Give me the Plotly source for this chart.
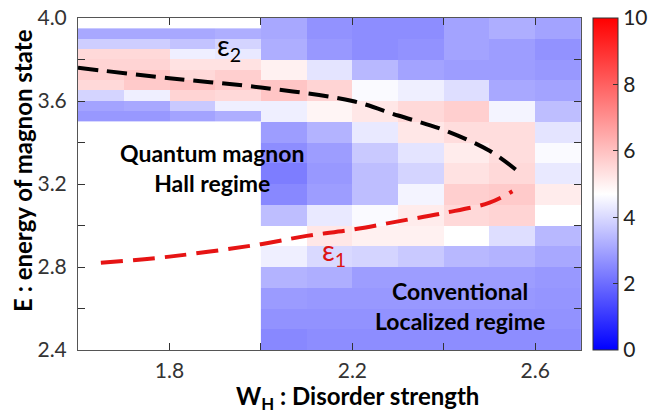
import plotly.graph_objects as go

# ---- data ----
# right block (W_H 2.0-2.7, E 2.4-4.0), rows listed from top (E=3.95) to bottom (E=2.45)
x_right = [2.05, 2.15, 2.25, 2.35, 2.45, 2.55, 2.65]
y_right_top_down = [3.95, 3.85, 3.75, 3.65, 3.55, 3.45, 3.35, 3.25,
                    3.15, 3.05, 2.95, 2.85, 2.75, 2.65, 2.55, 2.45]
z_right_top_down = [
    [3.1, 2.7, 2.6, 2.6, 3.0, 3.2, 3.0],
    [3.2, 2.8, 2.6, 2.7, 3.0, 2.9, 2.7],
    [5.0, 4.2, 3.4, 3.0, 2.9, 2.9, 2.8],
    [5.9, 5.6, 4.6, 4.4, 4.1, 3.1, 3.0],
    [4.4, 4.9, 5.2, 5.5, 5.7, 4.5, 3.5],
    [2.9, 3.3, 4.3, 5.2, 5.4, 5.4, 4.2],
    [2.6, 2.9, 3.7, 4.2, 5.1, 5.4, 4.6],
    [2.3, 2.8, 3.5, 3.9, 5.3, 5.5, 4.3],
    [2.5, 2.9, 3.5, 4.5, 5.7, 5.8, 5.1],
    [3.5, 4.3, 4.6, 5.1, 5.5, 5.6, 4.7],
    [4.7, 5.2, 5.0, 5.0, 4.7, 4.1, 3.4],
    [4.4, 4.0, 3.9, 3.7, 3.4, 3.3, 3.1],
    [3.3, 3.2, 2.9, 2.9, 2.9, 2.9, 2.8],
    [2.85, 2.8, 2.8, 2.8, 2.8, 2.8, 2.75],
    [2.7, 2.7, 2.7, 2.7, 2.7, 2.7, 2.7],
    [2.5, 2.6, 2.6, 2.6, 2.6, 2.6, 2.6],
]

# left block (W_H 1.6-2.0, E 3.5-3.95), finer energy rows, top to bottom
x_left = [1.65, 1.75, 1.85, 1.95]
y_left_top_down = [3.925, 3.875, 3.825, 3.775, 3.725, 3.675, 3.625, 3.575, 3.525]
z_left_top_down = [
    [3.1, 3.1, 3.1, 3.2],
    [3.8, 3.8, 3.6, 3.9],
    [5.5, 5.5, 4.4, 4.3],
    [5.6, 5.6, 5.3, 5.3],
    [5.7, 5.9, 5.5, 5.7],
    [5.5, 5.8, 6.0, 5.8],
    [3.9, 4.4, 5.6, 5.5],
    [3.0, 3.1, 3.7, 4.4],
    [2.8, 2.8, 3.0, 3.2],
]

# magnon state boundaries
eps2_x = [1.60, 1.80, 2.00, 2.20, 2.30, 2.40, 2.50, 2.56]
eps2_y = [3.76, 3.71, 3.665, 3.60, 3.53, 3.46, 3.36, 3.265]
eps1_x = [1.65, 1.80, 2.00, 2.10, 2.20, 2.30, 2.40, 2.50, 2.55]
eps1_y = [2.82, 2.85, 2.91, 2.95, 2.98, 3.02, 3.06, 3.11, 3.165]

x_ticks = [1.6, 1.8, 2.0, 2.2, 2.4, 2.6]
x_ticktext = ["", "1.8", "", "2.2", "", "2.6"]
y_ticks = [2.4, 2.6, 2.8, 3.0, 3.2, 3.4, 3.6, 3.8, 4.0]
y_ticktext = ["2.4", "", "2.8", "", "3.2", "", "3.6", "", "4.0"]
cb_ticks = [0, 2, 4, 6, 8, 10]

FONT = "Lato"
colorscale = [[0.0, "rgb(0,0,255)"], [0.47, "rgb(255,255,255)"], [1.0, "rgb(255,0,0)"]]

fig = go.Figure()
fig.add_trace(go.Heatmap(x=x_right, y=y_right_top_down[::-1], z=z_right_top_down[::-1],
                         coloraxis="coloraxis"))
fig.add_trace(go.Heatmap(x=x_left, y=y_left_top_down[::-1], z=z_left_top_down[::-1],
                         coloraxis="coloraxis"))
fig.add_trace(go.Scatter(x=eps2_x, y=eps2_y, mode="lines",
                         line=dict(color="black", width=4, dash="20px,9px", shape="spline"),
                         showlegend=False))
fig.add_trace(go.Scatter(x=eps1_x, y=eps1_y, mode="lines",
                         line=dict(color="rgb(230,20,20)", width=4, dash="22px,10px", shape="spline"),
                         showlegend=False))

axis_common = dict(showgrid=False, zeroline=False, showline=True, linecolor="#555", linewidth=1,
                   mirror="allticks", ticks="inside", ticklen=7, tickcolor="#333",
                   ticklabeloverflow="allow",
                   tickfont=dict(family=FONT, size=21, color="#333"))

# page body has an 8px offset, so the figure is drawn 8px smaller with shifted margins
fig.update_layout(
    width=654, height=406,
    margin=dict(l=70, r=81, t=10, b=64, autoexpand=False),
    paper_bgcolor="white", plot_bgcolor="white",
    font=dict(family=FONT),
    showlegend=False,
    coloraxis=dict(
        cmin=0, cmax=10, colorscale=colorscale,
        colorbar=dict(x=1.024, xanchor="left", xpad=0, y=0.5, yanchor="middle", ypad=0,
                      len=1, lenmode="fraction",
                      thickness=25, outlinecolor="#333", outlinewidth=1,
                      tickvals=cb_ticks, ticks="inside", ticklen=5, tickcolor="#333",
                      ticklabeloverflow="allow",
                      tickfont=dict(family=FONT, size=21, color="#222")),
    ),
    xaxis=dict(range=[1.6, 2.7], tickvals=x_ticks, ticktext=x_ticktext,
               ticklabelstandoff=2, **axis_common),
    yaxis=dict(range=[2.4, 4.0], tickvals=y_ticks, ticktext=y_ticktext,
               ticklabelstandoff=6, **axis_common),
)

annots = [
    dict(x=1.93, y=3.86, text="ε<sub>2</sub>", font=dict(size=28, color="black", family=FONT)),
    dict(x=2.16, y=2.87, text="ε<sub>1</sub>", font=dict(size=28, color="rgb(220,20,20)", family=FONT)),
    dict(x=1.895, y=3.275, text="<b>Quantum magnon<br>Hall regime</b>",
         font=dict(size=23, color="black", family=FONT)),
    dict(x=2.436, y=2.61, text="<b>Conventional<br>Localized regime</b>",
         font=dict(size=23, color="black", family=FONT)),
]
for a in annots:
    fig.add_annotation(xref="x", yref="y", showarrow=False, xanchor="center", yanchor="middle", **a)

fig.add_annotation(xref="paper", yref="paper", x=(357 - 78) / 503, y=-(397 - 350) / 332,
                   xanchor="center", yanchor="middle",
                   text="<b>W<sub>H</sub> : Disorder strength</b>", showarrow=False,
                   font=dict(family=FONT, size=24, color="black"))
fig.add_annotation(xref="paper", yref="paper", x=-(78 - 22) / 503, y=(350 - 171) / 332,
                   xanchor="center", yanchor="middle",
                   text="<b>E : energy of magnon state</b>", showarrow=False, textangle=-90,
                   font=dict(family=FONT, size=24, color="black"))

fig.write_html("out.html")
